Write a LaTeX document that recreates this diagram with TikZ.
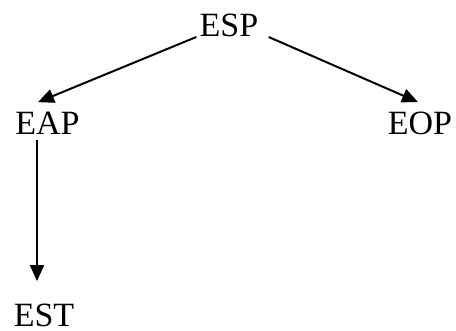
\documentclass[tikz,border=0pt]{standalone}
\usepackage{fontspec}
\setmainfont{Liberation Serif}
\usetikzlibrary{arrows.meta}
\begin{document}
\begin{tikzpicture}[x=0.5pt,y=-0.5pt,
		lbl/.style={inner sep=0pt,anchor=base,font=\fontsize{17}{20}\selectfont},
		link/.style={line width=1pt,-{Triangle[length=8pt,width=7pt]}}]
		\useasboundingbox (0,0) rectangle (456,331);

		\node[lbl] (esp) at (229,37) {ESP};
		\node[lbl] (eap) at (47.5,135) {EAP};
		\node[lbl] (eop) at (420,135) {EOP};
		\node[lbl] (est) at (44,327) {EST};

		\draw[link] ([xshift=-1.5pt]esp.base west) -- ([xshift=-4.75pt,yshift=5pt]eap.north);
		\draw[link] ([xshift=5pt]esp.base east) -- ([xshift=-1pt,yshift=5pt]eop.north);
		\draw[link] ([xshift=-5.25pt,yshift=-2.5pt]eap.south) -- ([xshift=-3.5pt,yshift=11.5pt]est.north);

	\end{tikzpicture}
\end{document}
